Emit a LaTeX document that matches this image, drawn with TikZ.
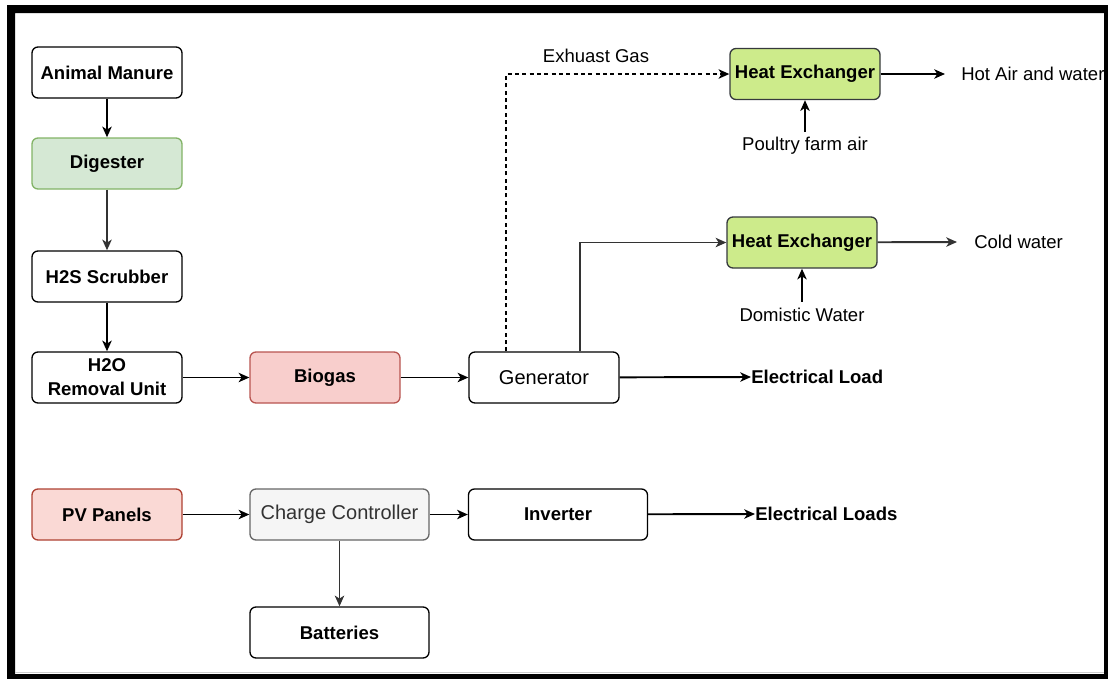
\documentclass[tikz,border=0pt]{standalone}
\usepackage{fontspec}
\setmainfont{Liberation Sans}
\usetikzlibrary{arrows.meta}
\definecolor{digfill}{HTML}{D5E8D4}
\definecolor{digline}{HTML}{82B366}
\definecolor{biofill}{HTML}{F8CECC}
\definecolor{bioline}{HTML}{B85450}
\definecolor{pvfill}{HTML}{FAD9D5}
\definecolor{pvline}{HTML}{AE4132}
\definecolor{hxfill}{HTML}{CDEB8B}
\definecolor{hxline}{HTML}{36393D}
\definecolor{ccfill}{HTML}{F5F5F5}
\definecolor{ccline}{HTML}{666666}
\definecolor{cctext}{HTML}{333333}
\definecolor{wire}{HTML}{333333}
\begin{document}
\begin{tikzpicture}[x=0.75pt,y=-0.75pt,
  box/.style={draw=black, fill=white, rounded corners=4.5pt, line width=1pt,
    minimum height=38.25pt, minimum width=112.5pt, inner sep=0pt, align=center,
    font=\fontsize{13.9}{18}\selectfont\bfseries},
  wide/.style={minimum width=134.25pt},
  regular/.style={font=\fontsize{15}{18}\selectfont},
  digester/.style={fill=digfill, draw=digline},
  biogas/.style={fill=biofill, draw=bioline},
  pv/.style={fill=pvfill, draw=pvline},
  hx/.style={fill=hxfill, draw=hxline},
  cc/.style={fill=ccfill, draw=ccline, text=cctext},
  lbl/.style={inner sep=0pt, font=\fontsize{13.9}{16}\selectfont},
  lblbold/.style={inner sep=0pt, font=\fontsize{13.9}{16}\selectfont\bfseries},
  flow/.style={draw=black, line width=1.45pt, -{Stealth[length=8pt,width=7pt,inset=2.2pt]}},
  softflow/.style={draw=wire, line width=1.45pt, -{Stealth[length=8pt,width=7pt,inset=2.2pt]}},
]
\useasboundingbox (0,0) rectangle (1108,679);

% biogas chain
\node[box] (manure) at (107,72.5) {Animal Manure};
\node[box, digester] (digester) at (107,163.5) {Digester};
\node[box] (scrub) at (107,276.5) {H2S Scrubber};
\node[box] (h2o) at (107,377.5) {H2O\\Removal Unit};
\node[box, biogas] (biogas) at (325,377.5) {Biogas};
\node[box, regular] (gen) at (544,377.5) {Generator};

% heat recovery
\node[box, hx] (hx1) at (805,74) {Heat Exchanger};
\node[box, hx] (hx2) at (802,242.5) {Heat Exchanger};

% solar chain
\node[box, pv] (pv) at (107,514.5) {PV Panels};
\node[box, cc, wide, regular] (cc) at (339.5,514.5) {Charge Controller};
\node[box, wide] (inv) at (558,514.5) {Inverter};
\node[box, wide] (bat) at (339.5,632.5) {Batteries};

% free labels
\node[lbl] (exh) at (596,56) {Exhuast Gas};
\node[lbl, anchor=west] (hot) at (961,74) {Hot Air and water};
\node[lbl] (poultry) at (805,146) {Poultry farm air};
\node[lbl, anchor=west] (cold) at (974,242) {Cold water};
\node[lbl] (dom) at (802,315) {Domistic Water};
\node[lblbold, anchor=west] (eload) at (751,377) {Electrical Load};
\node[lblbold, anchor=west] (eloads) at (755,514) {Electrical Loads};

% connectors
\draw[flow] (manure) -- (digester);
\draw[softflow] (digester) -- (scrub);
\draw[flow] (scrub) -- (h2o);
\draw[flow] (h2o) -- (biogas);
\draw[flow] (biogas) -- (gen);
\draw[flow] (gen) -- (eload.west);
\draw[flow, dash pattern=on 3pt off 2.5pt] ([xshift=28.5pt]gen.north west) |- (hx1.west);
\draw[softflow] ([xshift=84pt]gen.north west) |- (hx2.west);
\draw[flow] (hx1) -- ([xshift=-12pt]hot.west);
\draw[softflow] (hx2) -- ([xshift=-12.75pt]cold.west);
\draw[flow] ([yshift=3.75pt]poultry.north) -- (hx1);
\draw[flow] ([yshift=4.5pt]dom.north) -- (hx2);
\draw[flow] (pv) -- (cc);
\draw[flow] (cc) -- (inv);
\draw[flow] (inv) -- (eloads.west);
\draw[softflow] (cc) -- (bat);

% page frame
\fill[black, even odd rule] (7,5) rectangle (1108,679) (15,13) rectangle (1104,674);
\draw[gray!40, line width=0.75pt] (15,672.5) -- (1104,672.5);
\end{tikzpicture}
\end{document}
